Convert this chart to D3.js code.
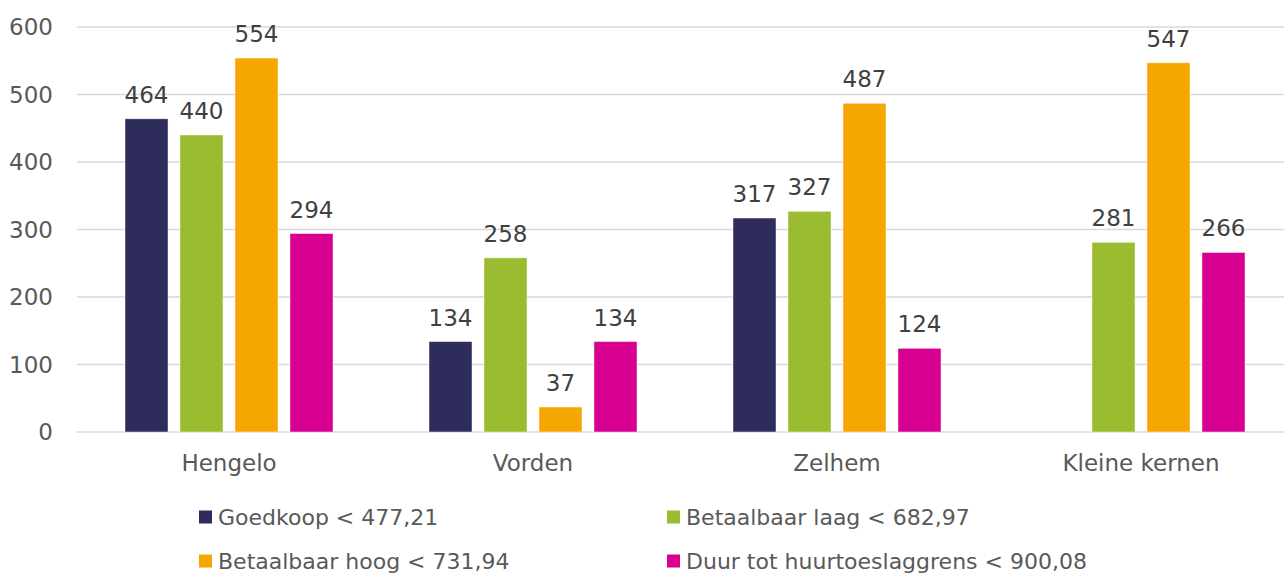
<!DOCTYPE html>
<html lang="nl">
<head>
  <meta charset="UTF-8">
  <title>Woningvoorraad naar huurklasse</title>
  <script src="https://d3js.org/d3.v7.min.js"></script>
  <style>
    html, body { margin: 0; padding: 0; background: #fff; }
    svg { display: block; font-family: "DejaVu Sans", Verdana, sans-serif; }
  </style>
</head>
<body>
  <div id="chart"></div>
  <script>
    // chart data
    const categories = ["Hengelo", "Vorden", "Zelhem", "Kleine kernen"];
    const seriesNames = [
      "Goedkoop < 477,21",
      "Betaalbaar laag < 682,97",
      "Betaalbaar hoog < 731,94",
      "Duur tot huurtoeslaggrens < 900,08"
    ];
    const goedkoop = [464, 134, 317, null];
    const betaalbaarLaag = [440, 258, 327, 281];
    const betaalbaarHoog = [554, 37, 487, 547];
    const duur = [294, 134, 124, 266];
    const yTicks = [0, 100, 200, 300, 400, 500, 600];

    const colors = ["#2e2c5b", "#9bbb31", "#f6a600", "#d8008f"];
    const seriesValues = [goedkoop, betaalbaarLaag, betaalbaarHoog, duur];

    const width = 1284, height = 576;
    const margin = { top: 27, right: 0, bottom: 144, left: 77 };

    const svg = d3.select("#chart").append("svg")
      .attr("width", width).attr("height", height);

    // plot area runs a little past the right edge of the picture
    const x0 = d3.scaleBand().domain(categories)
      .range([margin.left, 1293]).paddingInner(0).paddingOuter(0);
    const x1 = d3.scaleBand().domain(d3.range(seriesNames.length))
      .range([0, x0.bandwidth()]).paddingInner(0.218).paddingOuter(0.873);
    const y = d3.scaleLinear().domain([0, 600]).range([height - margin.bottom, margin.top]);

    // gridlines
    svg.append("g").selectAll("line").data(yTicks).join("line")
      .attr("x1", margin.left).attr("x2", width - margin.right)
      .attr("y1", d => y(d)).attr("y2", d => y(d))
      .attr("stroke", "#d9d9d9").attr("stroke-width", 1.5);

    // y axis labels
    svg.append("g").selectAll("text").data(yTicks).join("text")
      .attr("x", 53).attr("y", d => y(d)).attr("dy", "0.36em")
      .attr("text-anchor", "end").attr("fill", "#595959")
      .style("font-size", "23px").text(d => d);

    // bars
    const rows = [];
    categories.forEach((c, ci) => seriesValues.forEach((vals, si) => {
      if (vals[ci] != null) rows.push({ cat: c, s: si, v: vals[ci] });
    }));

    svg.append("g").selectAll("rect").data(rows).join("rect")
      .attr("x", d => x0(d.cat) + x1(d.s))
      .attr("width", x1.bandwidth())
      .attr("y", d => y(d.v))
      .attr("height", d => y(0) - y(d.v))
      .attr("fill", d => colors[d.s])
      .attr("stroke", "#ffffff").attr("stroke-opacity", 0.6).attr("stroke-width", 0.75);

    // value labels
    svg.append("g").selectAll("text").data(rows).join("text")
      .attr("x", d => x0(d.cat) + x1(d.s) + x1.bandwidth() / 2)
      .attr("y", d => y(d.v) - 16)
      .attr("text-anchor", "middle").attr("fill", "#404040")
      .style("font-size", "23px").text(d => d.v);

    // category labels
    svg.append("g").selectAll("text").data(categories).join("text")
      .attr("x", d => x0(d) + x0.bandwidth() / 2)
      .attr("y", 471)
      .attr("text-anchor", "middle").attr("fill", "#595959")
      .style("font-size", "23px").text(d => d);

    // legend
    const legendPos = [[199, 517], [667, 517], [199, 561], [667, 561]];
    const legend = svg.append("g").selectAll("g").data(seriesNames).join("g")
      .attr("transform", (d, i) => `translate(${legendPos[i][0]},${legendPos[i][1]})`);
    legend.append("rect").attr("x", 0).attr("y", -6.5).attr("width", 13).attr("height", 13)
      .attr("fill", (d, i) => colors[i]);
    legend.append("text").attr("x", 19).attr("dy", "0.36em")
      .attr("fill", "#595959").style("font-size", "22px").text(d => d);
  </script>
</body>
</html>
